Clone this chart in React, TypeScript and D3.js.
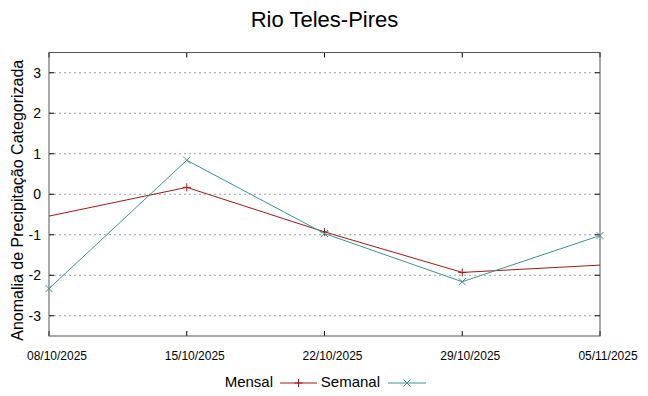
import React from "react";
import * as d3 from "d3";

const dates = ["08/10/2025", "15/10/2025", "22/10/2025", "29/10/2025", "05/11/2025"];
const mensal = [-0.54, 0.17, -0.93, -1.93, -1.75];
const mensalMarked = [false, true, true, true, false];
const semanal = [-2.33, 0.84, -0.97, -2.16, -1.02];
const yTicks = [-3, -2, -1, 0, 1, 2, 3];

const W = 648;
const H = 396;
const margin = { top: 52.5, right: 48, bottom: 60, left: 49 };

const App = () => {
  const x = d3
    .scalePoint<string>()
    .domain(dates)
    .range([margin.left, W - margin.right]);
  const y = d3
    .scaleLinear()
    .domain([-3.5, 3.5])
    .range([H - margin.bottom, margin.top]);

  const line = d3
    .line<number>()
    .x((d, i) => x(dates[i]) as number)
    .y((d) => y(d));

  const red = "#a01818";
  const teal = "#3b9494";
  const font = "'Liberation Sans', Arial, sans-serif";

  const plus = (cx: number, cy: number, c: string, k: string) => (
    <path key={k} d={`M${cx - 4},${cy}H${cx + 4}M${cx},${cy - 4}V${cy + 4}`} stroke={c} strokeWidth={1} />
  );
  const cross = (cx: number, cy: number, c: string, k: string) => (
    <path key={k} d={`M${cx - 3.5},${cy - 3.5}L${cx + 3.5},${cy + 3.5}M${cx - 3.5},${cy + 3.5}L${cx + 3.5},${cy - 3.5}`} stroke={c} strokeWidth={1} />
  );

  const x0 = margin.left;
  const x1 = W - margin.right;
  const y0 = margin.top;
  const y1 = H - margin.bottom;

  return (
    <svg width={W} height={H} style={{ position: "absolute", left: 0, top: 0, background: "#fff" }}>
      <text x={W / 2 + 0.5} y={27} textAnchor="middle" fontFamily={font} fontSize={22}>
        Rio Teles-Pires
      </text>
      {/* grid + y ticks */}
      {yTicks.map((t) => (
        <g key={t}>
          <line x1={x0} x2={x1} y1={y(t)} y2={y(t)} stroke="#a0a0a0" strokeDasharray="2,3" />
          <line x1={x0} x2={x0 + 5} y1={y(t)} y2={y(t)} stroke="#000" />
          <line x1={x1 - 5} x2={x1} y1={y(t)} y2={y(t)} stroke="#000" />
          <text x={x0 - 8} y={y(t) + 5} textAnchor="end" fontFamily={font} fontSize={14}>
            {t}
          </text>
        </g>
      ))}
      {dates.map((d) => (
        <g key={d}>
          <line x1={x(d)} x2={x(d)} y1={y1} y2={y1 - 5} stroke="#000" />
          <line x1={x(d)} x2={x(d)} y1={y0} y2={y0 + 5} stroke="#000" />
          <text
            x={(x(d) as number) + 8}
            y={y1 + 24}
            textAnchor="middle"
            fontFamily="'Liberation Sans Narrow', 'Liberation Sans', sans-serif"
            fontSize={12}
          >
            {d}
          </text>
        </g>
      ))}
      <rect x={x0} y={y0} width={x1 - x0} height={y1 - y0} fill="none" stroke="#555" strokeWidth={1} />
      <text
        transform={`translate(23,${(y0 + y1) / 2 + 6}) rotate(-90)`}
        textAnchor="middle"
        fontFamily={font}
        fontSize={16}
      >
        Anomalia de Precipitação Categorizada
      </text>
      <path d={line(mensal) as string} fill="none" stroke={red} strokeWidth={1} />
      {mensal.map((v, i) => (mensalMarked[i] ? plus(x(dates[i]) as number, y(v), red, "m" + i) : null))}
      <path d={line(semanal) as string} fill="none" stroke={teal} strokeWidth={1} />
      {semanal.map((v, i) => cross(x(dates[i]) as number, y(v), teal, "s" + i))}
      {/* legend */}
      <text x={273} y={387} textAnchor="end" fontFamily={font} fontSize={15}>
        Mensal
      </text>
      <line x1={280} x2={317} y1={383} y2={383} stroke={red} />
      {plus(298.5, 383, red, "lm")}
      <text x={380} y={387} textAnchor="end" fontFamily={font} fontSize={15}>
        Semanal
      </text>
      <line x1={388} x2={426} y1={383} y2={383} stroke={teal} />
      {cross(407, 383, teal, "ls")}
    </svg>
  );
};

export default App;
